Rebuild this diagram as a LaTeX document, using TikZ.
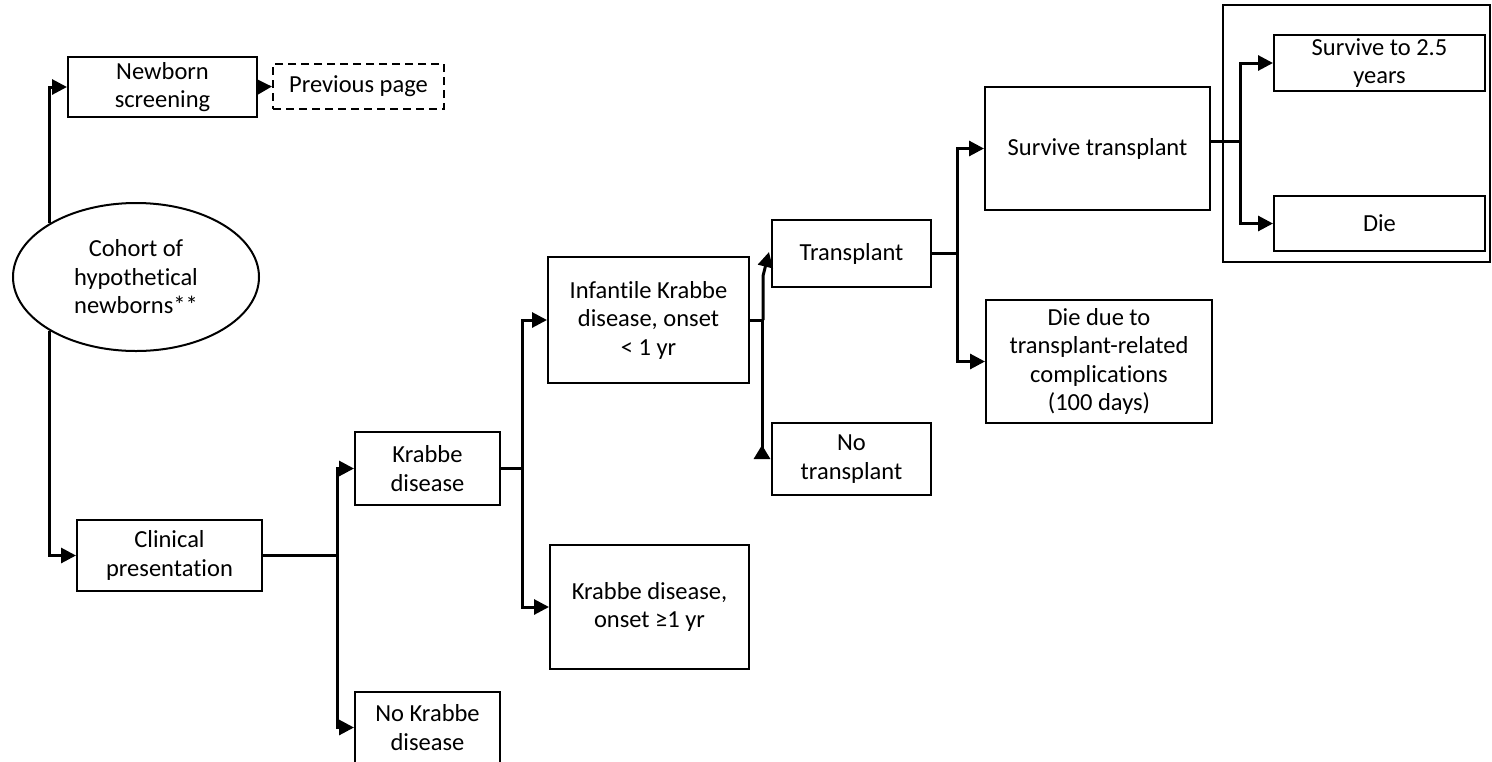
\documentclass[tikz,border=0pt]{standalone}
\usepackage{fontspec}
\setmainfont{Carlito}[Ligatures=NoCommon]
\usetikzlibrary{arrows.meta,shapes.geometric}
\tikzset{
  box/.style={draw, line width=2pt, inner sep=0pt, align=center, font=\fontsize{24.5}{28.5}\selectfont},
  dbox/.style={box, dashed, dash pattern=on 8pt off 5pt},
  conn/.style={line width=3pt},
  arr/.style={conn, -{Triangle[length=15pt,width=15pt]}},
  rarr/.style={conn, {Triangle[reversed,length=14pt,width=16pt]}-},
}
\begin{document}
\begin{tikzpicture}[x=1pt,y=-1pt]
\useasboundingbox (0,0) rectangle (1492,761);
\clip (0,0) rectangle (1492,761);
% nodes
\node[box, ellipse, minimum width=246pt, minimum height=148pt] (ell) at (136,277) {Cohort of\\hypothetical\\newborns**};
\node[box, minimum width=189pt, minimum height=60pt] (ns) at (162.5,87) {Newborn\\screening};
\node[dbox, minimum width=171pt, minimum height=45pt] (prev) at (358.5,86.5) {Previous page};
\node[box, minimum width=185pt, minimum height=71pt] (clin) at (169.5,555.5) {Clinical\\presentation};
\node[box, minimum width=145pt, minimum height=73pt] (kd) at (427.5,468.5) {Krabbe\\disease};
\node[box, minimum width=145pt, minimum height=71pt] (nokd) at (427.5,727.5) {No Krabbe\\disease};
\node[box, minimum width=201pt, minimum height=126pt] (inf) at (648.5,320) {Infantile Krabbe\\disease, onset\\< 1 yr};
\node[box, minimum width=199pt, minimum height=124pt] (kd1) at (649.5,607) {Krabbe disease,\\onset ≥1 yr};
\node[box, minimum width=159pt, minimum height=67pt] (tr) at (851.5,253.5) {Transplant};
\node[box, minimum width=159pt, minimum height=72pt] (notr) at (851.5,459) {No\\transplant};
\node[box, minimum width=225pt, minimum height=123pt] (st) at (1097.5,148.5) {Survive transplant};
\node[box, minimum width=226pt, minimum height=123pt] (dd) at (1099,361.5) {Die due to\\transplant-related\\complications\\(100 days)};
\node[box, minimum width=267pt, minimum height=257pt] (grp) at (1356.5,133.5) {};
\node[box, minimum width=211pt, minimum height=56pt] (s25) at (1379.5,63) {Survive to 2.5\\years};
\node[box, minimum width=211pt, minimum height=55pt] (die) at (1379.5,223.5) {Die};
% junctions
\coordinate (j1) at (337,555.5);
\coordinate (j2) at (522,468.5);
\coordinate (j3) at (762,320);
\coordinate (j3b) at (763,276);
\coordinate (j3c) at (769,252);
\coordinate (j4) at (957,253.5);
\coordinate (j5) at (1240,141);
% connectors
\draw[arr] (ell.148) |- (ns.west);
\draw[arr] (ell.212) |- (clin.west);
\draw[arr] (ns.east) -- (prev.west);
\draw[conn] (clin.east) -- (j1);
\draw[arr] (j1) |- (kd.west);
\draw[arr] (j1) |- (nokd.west);
\draw[conn] (kd.east) -- (j2);
\draw[arr] (j2) |- (inf.west);
\draw[arr] (j2) |- (kd1.west);
\draw[rarr] (notr.west -| j3) -- (j3) -- (inf.east |- j3);
\draw[arr] (j3b |- j3) -- (j3b) -- (j3c);
\draw[conn] (tr.east) -- (j4);
\draw[arr] (j4) |- (st.west);
\draw[arr] (j4) |- (dd.west);
\draw[conn] (j5 -| st.east) -- (j5);
\draw[arr] (j5) |- (s25.west);
\draw[arr] (j5) |- (die.west);
\end{tikzpicture}
\end{document}
